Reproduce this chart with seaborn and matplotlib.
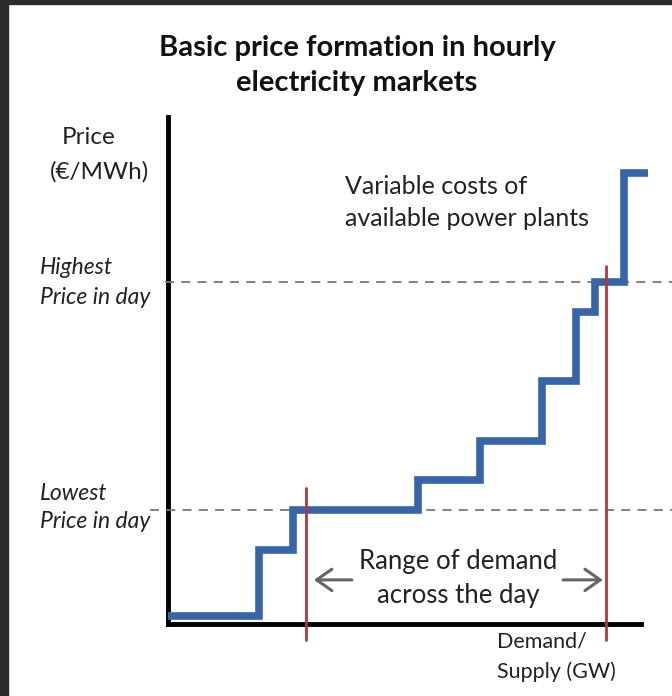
import matplotlib
matplotlib.use("Agg")
import matplotlib.pyplot as plt
from matplotlib.patches import Rectangle
import pandas as pd
import seaborn as sns

# supply stack: demand break points (GW, relative) and price of each block
demand_edges = [0, 19, 26, 52, 65, 78, 85, 89, 95, 100]
block_prices = [1.5, 14.5, 22.5, 28.5, 36, 48, 61.5, 67.5, 89]

lowest_price = 22.5
highest_price = 67.5
demand_low = 28.75
demand_high = 91.25

title_lines = ["Basic price formation in hourly", "electricity markets"]

sns.set_theme(style="white")
plt.rcParams["font.family"] = ["Lato", "DejaVu Sans"]

W, H = 672, 696
fig = plt.figure(figsize=(W / 100, H / 100), dpi=100)
fig.patch.set_facecolor("white")

# axes frame in pixel terms: x 168..648, y 117..624
ax = fig.add_axes([168 / W, 1 - 624 / H, 480 / W, 507 / H])
ax.set_xlim(0, 100)
ax.set_ylim(0, 100)
ax.set_facecolor("none")

steps = pd.DataFrame({
    "demand": demand_edges,
    "price": block_prices + [block_prices[-1]],
})
sns.lineplot(data=steps, x="demand", y="price", drawstyle="steps-post",
             color="#3765a6", lw=5.5, ax=ax, solid_joinstyle="miter",
             zorder=4)

# axes lines
for side in ["top", "right"]:
    ax.spines[side].set_visible(False)
ax.spines["left"].set_linewidth(3.5)
ax.spines["bottom"].set_linewidth(3.5)
ax.spines["left"].set_color("black")
ax.spines["bottom"].set_color("black")
ax.spines["bottom"].set_bounds(0, 98.5)
ax.set_xticks([])
ax.set_yticks([])
ax.set_xlabel("")
ax.set_ylabel("")

# highest / lowest price in day
ax.plot([-0.6, 105], [highest_price, highest_price], ls=(0, (5, 4)),
        color="#777777", lw=1.3, clip_on=False, zorder=3)
ax.plot([-3.8, 105], [lowest_price, lowest_price], ls=(0, (5, 4)),
        color="#777777", lw=1.3, clip_on=False, zorder=3)

# demand range of the day
ax.plot([demand_low, demand_low], [-3.2, 26.8], color="#b0393e", lw=2,
        clip_on=False, zorder=5)
ax.plot([demand_high, demand_high], [-3.2, 70.6], color="#b0393e", lw=2,
        clip_on=False, zorder=5)
arrow_kw = dict(arrowstyle="->,head_length=0.5,head_width=0.35",
                color="#666666", lw=2.2, shrinkA=0, shrinkB=0,
                mutation_scale=22)
ax.annotate("", xy=(30.4, 8.7), xytext=(38.3, 8.7), arrowprops=arrow_kw)
ax.annotate("", xy=(90.6, 8.7), xytext=(82.3, 8.7), arrowprops=arrow_kw)


def ftext(px, py, s, **kw):
    fig.text(px / W, 1 - py / H, s, va="center", **kw)


ftext(357, 48, title_lines[0], ha="center", fontsize=21, fontweight="bold",
      color="#111111")
ftext(357, 83, title_lines[1], ha="center", fontsize=21, fontweight="bold",
      color="#111111")
ftext(62, 138, "Price", fontsize=17.5, color="#222222")
ftext(50, 172, "(€/MWh)", fontsize=17.5, color="#222222")
ftext(345, 187, "Variable costs of", fontsize=18, color="#222222")
ftext(345, 218, "available power plants", fontsize=18, color="#222222")
ftext(40, 268, "Highest", fontsize=16.5, style="italic", color="#222222")
ftext(40, 297, "Price in day", fontsize=16.5, style="italic", color="#222222")
ftext(40, 493, "Lowest", fontsize=16.5, style="italic", color="#222222")
ftext(40, 521, "Price in day", fontsize=16.5, style="italic", color="#222222")
ftext(458, 562, "Range of demand", ha="center", fontsize=18.5, color="#222222")
ftext(458, 596, "across the day", ha="center", fontsize=18.5, color="#222222")
ftext(497, 641, "Demand/", fontsize=15.5, color="#222222")
ftext(497, 672, "Supply (GW)", fontsize=15.5, color="#222222")

# dark frame of the screenshot
fig.patches.append(Rectangle((0, 0), 8 / W, 1, transform=fig.transFigure,
                             color="#2b2b2b", zorder=10))
fig.patches.append(Rectangle((0, 1 - 4 / H), 1, 4 / H,
                             transform=fig.transFigure, color="#2b2b2b",
                             zorder=10))

fig.savefig("out.png", dpi=100)
